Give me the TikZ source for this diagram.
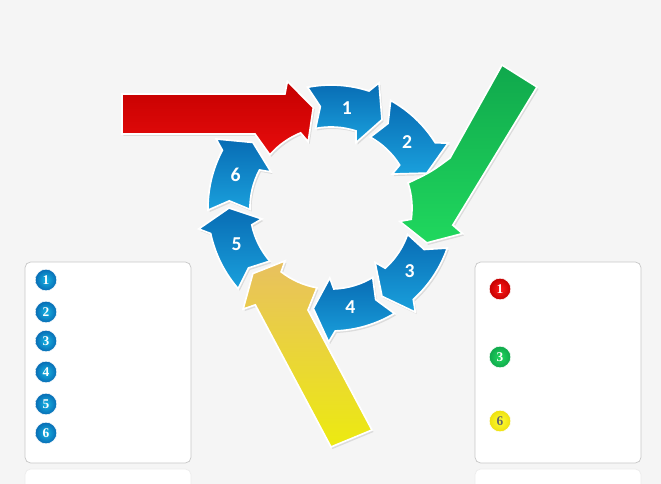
\documentclass[tikz,border=0pt]{standalone}
\usepackage{fontspec}
\setmainfont{Carlito}
\newfontfamily\dotfont{Liberation Serif}
\usepackage{xcolor}

\definecolor{bgray}{RGB}{245,245,245}
\definecolor{segtop}{RGB}{8,108,180}
\definecolor{segbot}{RGB}{26,160,220}
\definecolor{redtop}{RGB}{196,0,0}
\definecolor{redbot}{RGB}{232,12,12}
\definecolor{greentop}{RGB}{16,168,76}
\definecolor{greenbot}{RGB}{32,216,94}
\definecolor{yeltop}{RGB}{232,192,96}
\definecolor{yelbot}{RGB}{236,234,16}

% one ring piece, slot angle #1 (clockwise arrow)
\newcommand{\segpath}[1]{({#1+19}:123) arc[start angle={#1+19}, end angle={#1-10}, radius=123]
 -- ({#1-13}:134) -- ({#1-22}:102) -- ({#1-13}:70) -- ({#1-10}:81)
 arc[start angle={#1-10}, end angle={#1+19}, radius=81] -- ({#1+14}:102) -- cycle}

\tikzset{
 seg/.style={draw=white, line width=1.2pt, top color=segtop, bottom color=segbot},
 segshadow/.style={fill=black, opacity=0.10},
 ringnum/.style={text=white, font=\bfseries\fontsize{14}{14}\selectfont},
 panel/.style={fill=white, draw=black!22, line width=0.5pt, rounded corners=4pt},
 numdot/.style={circle, minimum size=0.54cm, inner sep=0pt, draw=white, line width=0.4pt,
   font=\dotfont\bfseries\fontsize{9.5}{9.5}\selectfont, text=white},
 bluedot/.style={numdot, inner color=segbot!80!cyan, outer color=segtop},
}

\begin{document}
\begin{tikzpicture}[x=0.025cm, y=0.025cm]
 \useasboundingbox[fill=bgray] (-331,-276) rectangle (330,208);

 % panels
 \draw[panel, draw=black!7] (-306,-261) rectangle (-140,-300);
 \draw[panel, draw=black!7] (144,-261) rectangle (310,-300);
 \draw[panel] (-306,-54) rectangle (-140,-255);
 \draw[panel] (144,-54) rectangle (310,-255);

 % left list
 \foreach \n/\y in {1/-72, 2/-104, 3/-133, 4/-164, 5/-196, 6/-225}
  \node[bluedot] (l\n) at (-285,\y) {\n};

 % right list
 \node[numdot, inner color=red!90!white, outer color=redtop] (r1) at (169,-81) {1};
 \node[numdot, inner color=greenbot, outer color=greentop] (r3) at (169,-149) {3};
 \node[numdot, inner color=yellow!80!white, outer color=yelbot!90!orange, text=black!60] (r6) at (169,-213) {6};

 % ring
 \foreach \a in {82, 42, -38, -78, -158, 162} {
  \fill[segshadow, shift={(1.5,-2)}] \segpath{\a};
  \path[seg] \segpath{\a};
 }
 \foreach \a/\n in {82/1, 42/2, -38/3, -78/4, -158/5, 162/6}
  \node[ringnum] (s\n) at ({\a-1}:101) {\n};

 % red arrow
 \fill[segshadow, shift={(1.5,-2)}] (-209,114) -- (112:123) -- (109:134) -- (100:102) -- (109:70) -- (112:81)
  arc[start angle=112, end angle=139, radius=81] -- (-76,74) -- (-209,74) -- cycle;
 \path[draw=white, line width=1.2pt, top color=redtop, bottom color=redbot]
  (-209,114) -- (112:123) -- (109:134) -- (100:102) -- (109:70) -- (112:81)
  arc[start angle=112, end angle=139, radius=81] -- (-76,74) -- (-209,74) -- cycle;

 % green arrow
 \fill[segshadow, shift={(1.5,-2)}] (171,143) -- (206,121) -- (-8:123) -- (-11:134) -- (-20:102) -- (-11:70) -- (-8:81)
  arc[start angle=-8, end angle=18, radius=81] .. controls (100,36) .. (119,50) -- cycle;
 \path[draw=white, line width=1.2pt, top color=greentop, bottom color=greenbot]
  (171,143) -- (206,121) -- (-8:123) -- (-11:134) -- (-20:102) -- (-11:70) -- (-8:81)
  arc[start angle=-8, end angle=18, radius=81] .. controls (100,36) .. (119,50) -- cycle;

 % yellow arrow
 \fill[segshadow, shift={(1.5,-2)}] (0,-239) -- (-128:123) -- (-131:134) -- (-140:102) -- (-131:70) -- (-128:81)
  arc[start angle=-128, end angle=-100, radius=81] -- (-23,-102) -- (41,-222) -- cycle;
 \path[draw=white, line width=1.2pt, top color=yeltop, bottom color=yelbot]
  (0,-239) -- (-128:123) -- (-131:134) -- (-140:102) -- (-131:70) -- (-128:81)
  arc[start angle=-128, end angle=-100, radius=81] -- (-23,-102) -- (41,-222) -- cycle;
\end{tikzpicture}
\end{document}
